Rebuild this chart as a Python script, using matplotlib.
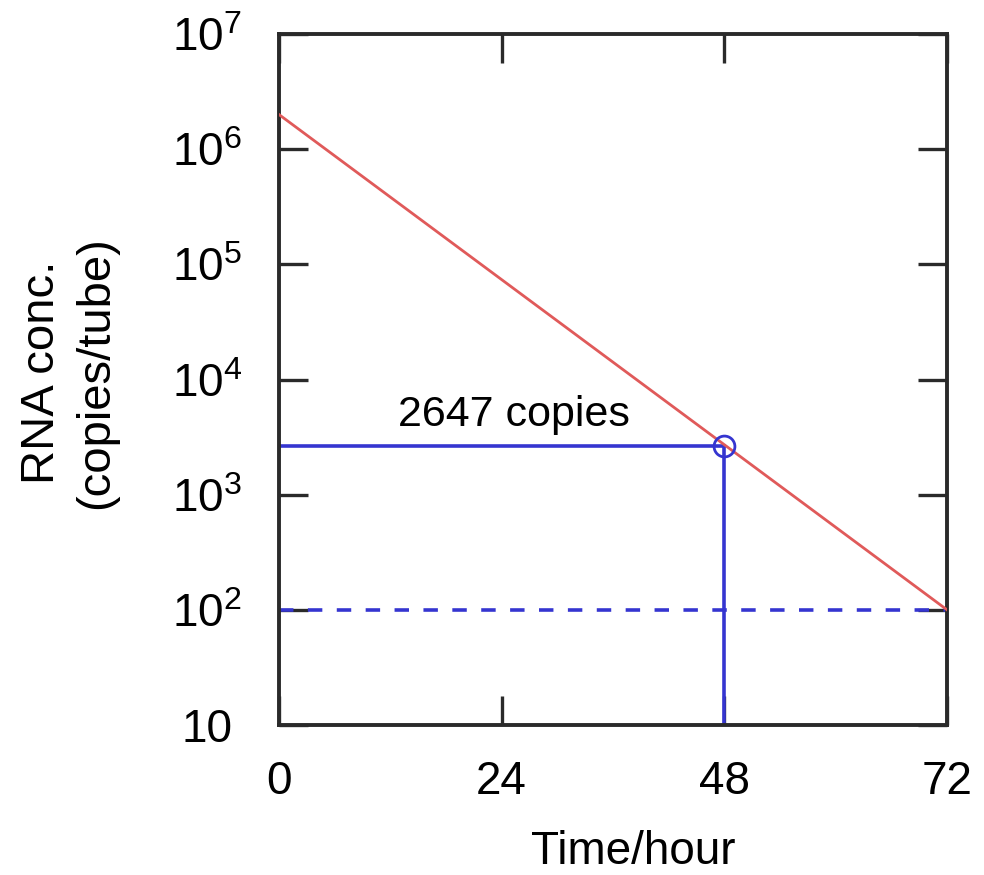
import numpy as np
import matplotlib.pyplot as plt
from matplotlib.ticker import FixedLocator, FixedFormatter

plt.rcParams["font.family"] = ["Liberation Sans", "DejaVu Sans"]
plt.rcParams["mathtext.default"] = "regular"

# data
decay_hours = [0, 72]
decay_copies = [2.0e6, 100]
read_hour = 48
read_copies = 2647
limit_copies = 100

x_ticks = [0, 24, 48, 72]
y_ticks = [10, 1e2, 1e3, 1e4, 1e5, 1e6, 1e7]
y_labels = ["10", "$10^{2}$", "$10^{3}$", "$10^{4}$", "$10^{5}$", "$10^{6}$", "$10^{7}$"]

fig = plt.figure(figsize=(9.84, 8.75), dpi=100)
ax = fig.add_axes([0.2835, 0.1714, 0.679, 0.7897])

blue = "#3535d0"
red = "#e05a5a"

# detection limit (dashed)
ax.plot([0, 72], [limit_copies, limit_copies], color=blue, lw=2.6,
        linestyle=(0, (4, 4)), zorder=2)
# read-off lines
ax.plot([0, read_hour], [read_copies, read_copies], color=blue, lw=2.6, zorder=2)
ax.plot([read_hour, read_hour], [10, read_copies], color=blue, lw=2.6, zorder=2)
# decay curve
ax.plot(decay_hours, decay_copies, color=red, lw=2.0, zorder=3)
ax.plot([read_hour], [read_copies], marker="o", ms=15, mfc="none",
        mec=blue, mew=2.0, zorder=4)

ax.text(12.8, 4900, f"{read_copies} copies", fontsize=31, va="center", ha="left")

ax.set_yscale("log")
ax.set_xlim(0, 72)
ax.set_ylim(10, 1e7)
ax.xaxis.set_major_locator(FixedLocator(x_ticks))
ax.yaxis.set_major_locator(FixedLocator(y_ticks))
ax.yaxis.set_major_formatter(FixedFormatter(y_labels))
ax.yaxis.set_minor_locator(FixedLocator([]))

ax.tick_params(which="major", direction="in", length=21, width=2.4,
               top=True, right=True, labelsize=33, color="#2a2a2a")
ax.tick_params(axis="x", pad=25)
ax.tick_params(axis="y", pad=52)
for lab in ax.get_yticklabels():
    lab.set_horizontalalignment("center")

for sp in ax.spines.values():
    sp.set_linewidth(2.8)
    sp.set_color("#2a2a2a")

ax.set_xlabel("Time/hour", fontsize=33)
ax.xaxis.set_label_coords(0.53, -0.152)
ax.set_ylabel("RNA conc.\n(copies/tube)", fontsize=34, linespacing=1.3)
ax.yaxis.set_label_coords(-0.24, 0.51)

fig.savefig("out.png", dpi=100)
